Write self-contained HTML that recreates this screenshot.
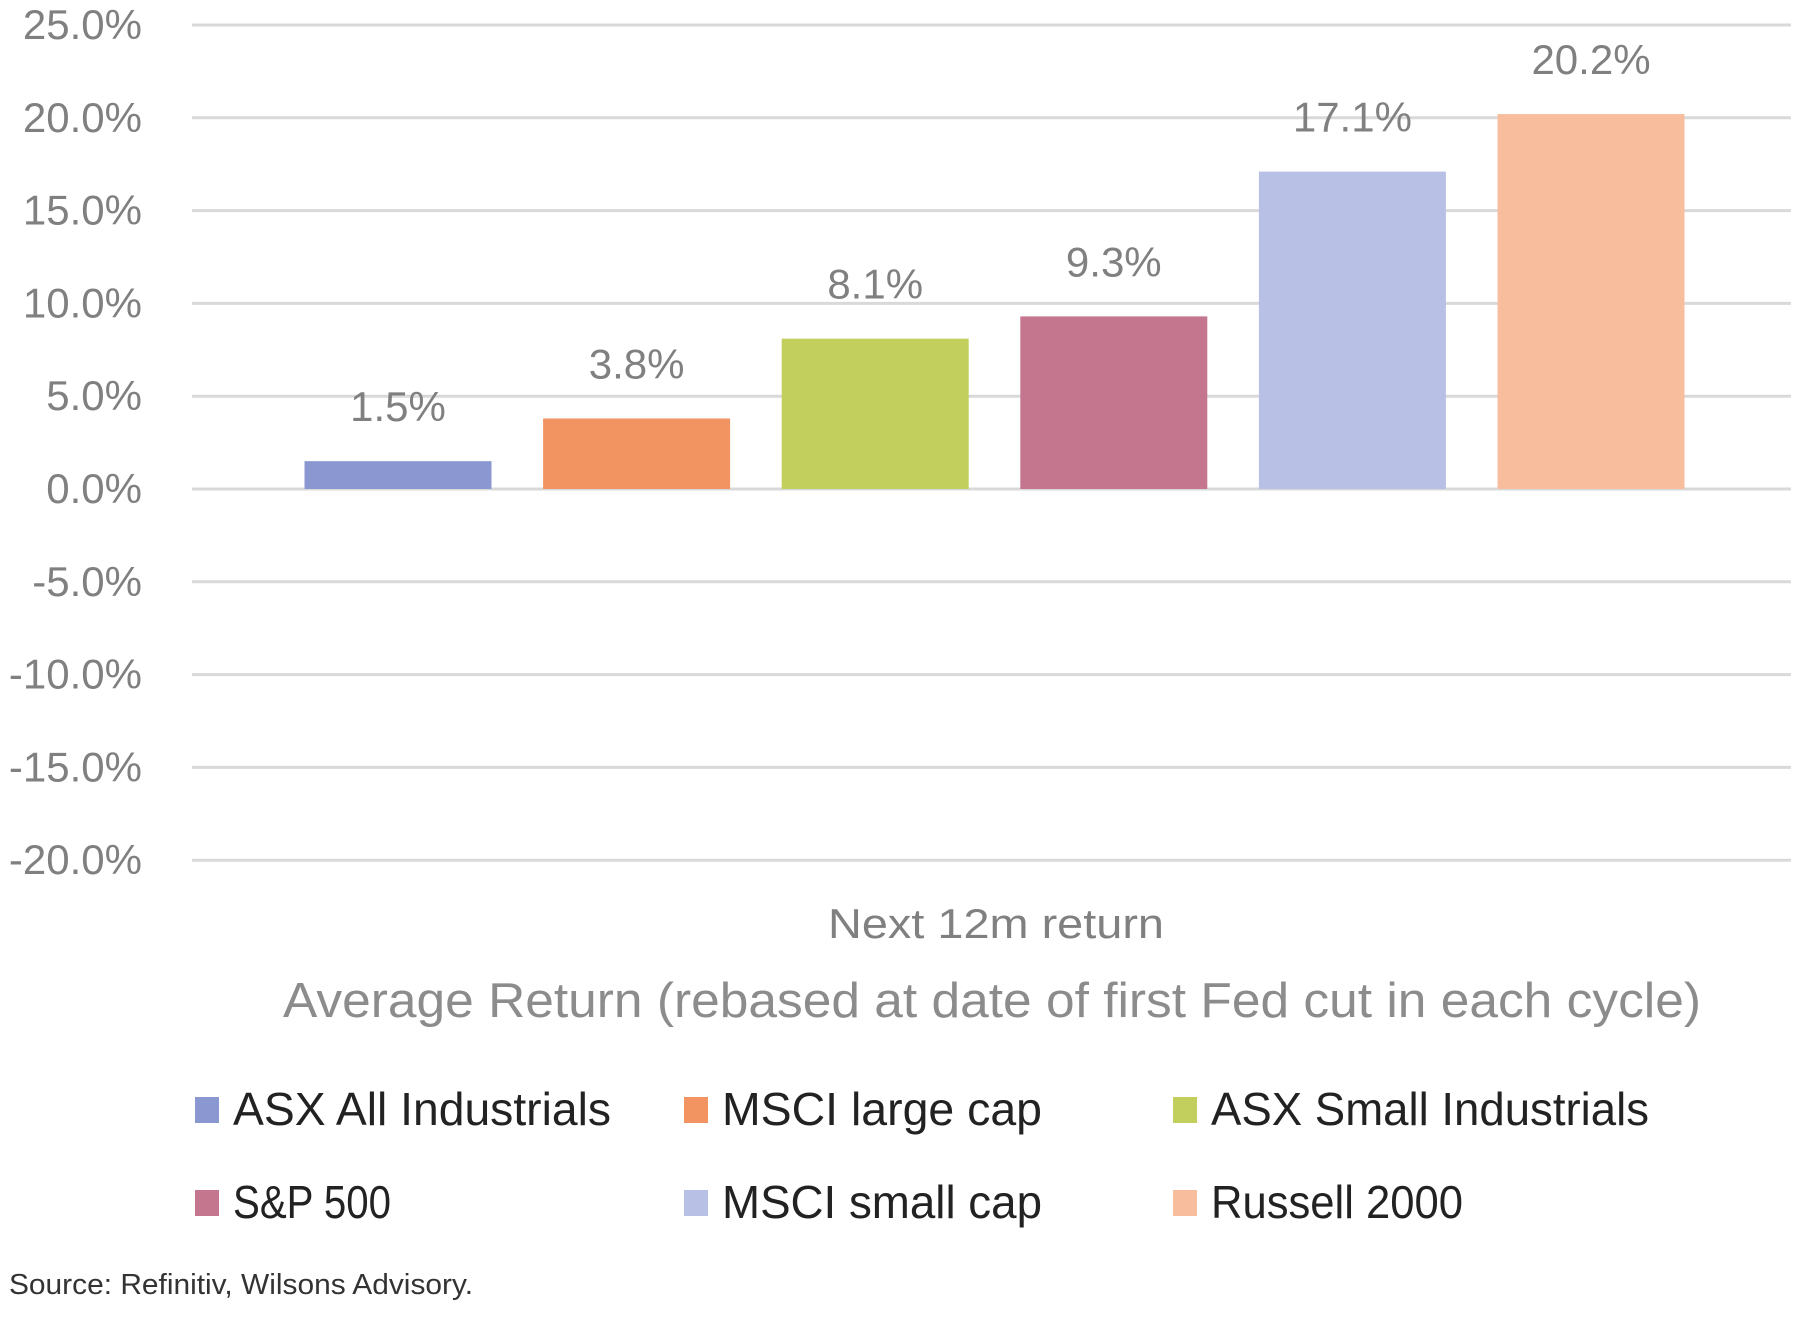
<!DOCTYPE html>
<html><head><meta charset="utf-8"><style>
html,body{margin:0;padding:0;background:#fff;}
svg{display:block;font-family:"Liberation Sans",sans-serif;}
</style></head><body>
<svg id="chart" width="1800" height="1338" viewBox="0 0 1800 1338" xmlns="http://www.w3.org/2000/svg">
<g id="grid"></g>
<g id="yticks"></g>
<g id="bars"></g>
<g id="labels"></g>
<text x="996" y="938" font-size="42" fill="#808080" text-anchor="middle" textLength="336" lengthAdjust="spacingAndGlyphs">Next 12m return</text>
<text x="992" y="1017" font-size="49" fill="#8c8c8c" text-anchor="middle" textLength="1418" lengthAdjust="spacingAndGlyphs">Average Return (rebased at date of first Fed cut in each cycle)</text>
<g id="legend"></g>
<text x="9" y="1294" font-size="29" fill="#333" textLength="464" lengthAdjust="spacingAndGlyphs">Source: Refinitiv, Wilsons Advisory.</text>
</svg>
<script>
const categories = ["ASX All Industrials","MSCI large cap","ASX Small Industrials","S&P 500","MSCI small cap","Russell 2000"];
const values = [1.5, 3.8, 8.1, 9.3, 17.1, 20.2];
const valueLabels = ["1.5%","3.8%","8.1%","9.3%","17.1%","20.2%"];
const colors = ["#8b97d1","#f29461","#c2cf5d","#c5768f","#b9c0e5","#f8bd9c"];
const yTicks = [25,20,15,10,5,0,-5,-10,-15,-20];
const yTickLabels = ["25.0%","20.0%","15.0%","10.0%","5.0%","0.0%","-5.0%","-10.0%","-15.0%","-20.0%"];

const NS="http://www.w3.org/2000/svg";
function y(v){return 489 - v*(464/25);}
function xc(i){return 398 + i*238.6;}
const BW=187;
function mk(tag,attrs,parent,txt){const e=document.createElementNS(NS,tag);for(const k in attrs)e.setAttribute(k,attrs[k]);if(txt!==undefined)e.textContent=txt;parent.appendChild(e);return e;}
const grid=document.getElementById('grid'),yt=document.getElementById('yticks'),bars=document.getElementById('bars'),labels=document.getElementById('labels'),legend=document.getElementById('legend');
yTicks.forEach((t,i)=>{
  const l=mk('line',{x1:192,x2:1791,y1:y(t),y2:y(t),stroke:'#d9d9d9','stroke-width':3},grid);
  
  
  const tx=mk('text',{x:142,y:y(t)+14,'font-size':42,fill:'#808080','text-anchor':'end'},yt,yTickLabels[i]);
  
  
});
values.forEach((v,i)=>{
  const top=Math.min(y(v),y(0)),h=Math.abs(y(v)-y(0));
  const r=mk('rect',{x:xc(i)-BW/2,y:top,width:BW,height:h,fill:colors[i]},bars);
  
  
  const t=mk('text',{x:xc(i),y:top-40,'font-size':42,fill:'#808080','text-anchor':'middle'},labels,valueLabels[i]);
  
  
});
const legX=[195,684,1173];
categories.forEach((c,i)=>{
  const col=i%3,row=Math.floor(i/3);
  const sx=legX[col],sy=1097+row*93;
  const g=mk('g',{},legend);
  
  
  mk('rect',{x:sx,y:sy,width:24,height:26,fill:colors[i]},g);
  const lens=[378,320,438,158,320,252];
  mk('text',{x:sx+38,y:sy+28,'font-size':46,fill:'#222',textLength:lens[i],lengthAdjust:'spacingAndGlyphs'},g,c);
});
</script>
</body></html>
